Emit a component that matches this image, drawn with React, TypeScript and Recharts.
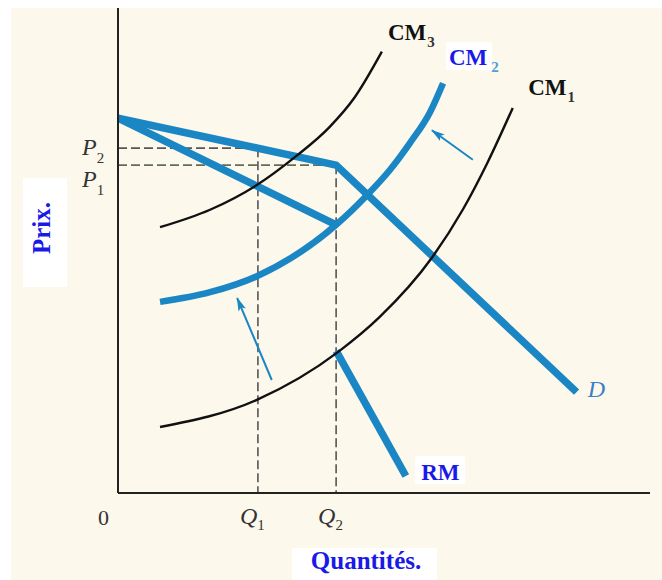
import React from 'react';
import { ComposedChart, Line, XAxis, YAxis, ReferenceLine, ReferenceDot } from 'recharts';

// Equilibrium quantities and prices
const Q1 = 26.3;
const Q2 = 41;
const P1 = 67.6;
const P2 = 71.1;

const xTickValues = [Q1, Q2];
const xTickNames = ['Q1', 'Q2'];
const yTickValues = [P2, P1];
const yTickNames = ['P2', 'P1'];

// Kinked demand curve D
const demandQ = [0, Q2, 86.2];
const demandP = [77.3, P1, 20.8];

// Marginal revenue (RM): upper and lower branches, with the gap at Q2
const mrUpperQ = [0, Q2];
const mrUpperP = [77.3, 55.3];
const mrLowerQ = [Q2, 54.1];
const mrLowerP = [29.3, 3.5];

// Marginal cost curves CM1, CM2, CM3
const cm1Q = [7.9, 26.1, 41.4, 49.2, 59.0, 64.8, 69.4, 74.2];
const cm1P = [13.6, 19.2, 29.1, 36.3, 48.5, 58.4, 68.0, 79.4];
const cm2Q = [7.9, 17.3, 26.1, 41, 46.8, 51.1, 54.9, 58.6, 61.1];
const cm2P = [39.4, 41.4, 44.7, 55.3, 61.4, 66.6, 72.2, 78.4, 84.5];
const cm3Q = [7.9, 17.3, 26.1, 33.3, 39.8, 44.5, 49.6];
const cm3P = [54.8, 58.4, 63.5, 69.3, 75.5, 81.6, 91.0];

// Arrows showing the shift of marginal cost
const arrowUpperQ = [66.7, 59.0];
const arrowUpperP = [68.7, 74.8];
const arrowLowerQ = [28.9, 22.4];
const arrowLowerP = [23.3, 40.2];

const toPoints = (qs: number[], ps: number[]) => qs.map((q, i) => ({ x: q, y: ps[i] }));

const demand = toPoints(demandQ, demandP);
const mrUpper = toPoints(mrUpperQ, mrUpperP);
const mrLower = toPoints(mrLowerQ, mrLowerP);
const cm1 = toPoints(cm1Q, cm1P);
const cm2 = toPoints(cm2Q, cm2P);
const cm3 = toPoints(cm3Q, cm3P);
const arrowUpper = toPoints(arrowUpperQ, arrowUpperP);
const arrowLower = toPoints(arrowLowerQ, arrowLowerP);

const BLUE = '#1b86c4';
const TEXT_BLUE = '#1a1ae8';
const SERIF = '"Liberation Serif", "DejaVu Serif", serif';

const XTick = (props: any) => {
  const { x, y, payload } = props;
  const idx = xTickValues.indexOf(payload.value);
  const name = xTickNames[idx] ?? '';
  return (
    <text x={x - 18} y={y + 31} fontFamily={SERIF} fontStyle="italic" fontSize={24} fill="#333">
      {name.charAt(0)}
      <tspan fontSize={15} dy={6} fontStyle="normal">{name.slice(1)}</tspan>
    </text>
  );
};

const YTick = (props: any) => {
  const { x, y, payload } = props;
  const idx = yTickValues.indexOf(payload.value);
  const name = yTickNames[idx] ?? '';
  const dy = idx === 0 ? 7 : 22;
  return (
    <text x={x - 36} y={y + dy} fontFamily={SERIF} fontStyle="italic" fontSize={24} fill="#333">
      {name.charAt(0)}
      <tspan fontSize={15} dy={8} fontStyle="normal">{name.slice(1)}</tspan>
    </text>
  );
};

const curveLabel =
  (main: string, sub: string, color: string, subColor: string, box: boolean) =>
  (p: any) => (
    <g>
      {box && <rect x={p.cx - 3} y={p.cy - 23} width={46} height={28} fill="#ffffff" />}
      <text x={p.cx} y={p.cy} fontFamily={SERIF} fontWeight="bold" fontSize={23} fill={color}>
        {main}
        <tspan fontSize={15} dy={7} dx={box ? 4 : 1} fill={subColor}>{sub}</tspan>
      </text>
    </g>
  );

const rmLabel = (p: any) => (
  <g>
    <rect x={p.cx - 6} y={p.cy - 24} width={50} height={28} fill="#ffffff" />
    <text x={p.cx} y={p.cy} fontFamily={SERIF} fontWeight="bold" fontSize={23} fill={TEXT_BLUE}>RM</text>
  </g>
);

const dLabel = (p: any) => (
  <text x={p.cx} y={p.cy} fontFamily={SERIF} fontStyle="italic" fontSize={24} fill="#3a7fc8">D</text>
);

export default function App() {
  return (
    <div style={{ position: 'absolute', left: 0, top: 0, width: 662, height: 580, background: '#ffffff' }}>
      <div style={{ position: 'absolute', left: 11, top: 8, width: 651, height: 572, background: '#fcf8ec' }} />
      <div style={{ position: 'absolute', left: 0, top: 0 }}>
        <ComposedChart width={662} height={580} margin={{ top: 8, right: 12, bottom: 0, left: 0 }}>
          <defs>
            <marker id="arrowHead" markerUnits="userSpaceOnUse" markerWidth={14} markerHeight={10} refX={13} refY={5} orient="auto">
              <path d="M0,1 L14,5 L0,9 L3,5 z" fill={BLUE} />
            </marker>
          </defs>
          <XAxis
            type="number"
            dataKey="x"
            domain={[0, 100]}
            ticks={xTickValues}
            interval={0}
            tick={<XTick />}
            tickLine={false}
            tickSize={0}
            tickMargin={0}
            height={87}
            axisLine={{ stroke: '#222', strokeWidth: 2 }}
            allowDataOverflow
          />
          <YAxis
            type="number"
            dataKey="y"
            domain={[0, 100]}
            ticks={yTickValues}
            interval={0}
            tick={<YTick />}
            tickLine={false}
            tickSize={0}
            tickMargin={0}
            width={118}
            axisLine={{ stroke: '#222', strokeWidth: 2 }}
            allowDataOverflow
          />

          <ReferenceLine segment={[{ x: 0, y: P2 }, { x: Q1, y: P2 }]} stroke="#555" strokeWidth={1.6} strokeDasharray="9 4" />
          <ReferenceLine segment={[{ x: Q1, y: P2 }, { x: Q1, y: 0 }]} stroke="#555" strokeWidth={1.6} strokeDasharray="9 4" />
          <ReferenceLine segment={[{ x: 0, y: P1 }, { x: Q2, y: P1 }]} stroke="#5f6e55" strokeWidth={1.6} strokeDasharray="9 4" />
          <ReferenceLine segment={[{ x: Q2, y: P1 }, { x: Q2, y: 0 }]} stroke="#555" strokeWidth={1.6} strokeDasharray="9 4" />

          <Line data={demand} dataKey="y" type="linear" stroke={BLUE} strokeWidth={7.5} strokeLinejoin="miter" dot={false} activeDot={false} isAnimationActive={false} />
          <Line data={mrUpper} dataKey="y" type="linear" stroke={BLUE} strokeWidth={7.5} dot={false} activeDot={false} isAnimationActive={false} />
          <Line data={mrLower} dataKey="y" type="linear" stroke={BLUE} strokeWidth={7.5} dot={false} activeDot={false} isAnimationActive={false} />
          <Line data={cm2} dataKey="y" type="monotone" stroke={BLUE} strokeWidth={6.5} dot={false} activeDot={false} isAnimationActive={false} />
          <Line data={cm3} dataKey="y" type="monotone" stroke="#111" strokeWidth={2.4} dot={false} activeDot={false} isAnimationActive={false} />
          <Line data={cm1} dataKey="y" type="monotone" stroke="#111" strokeWidth={2.4} dot={false} activeDot={false} isAnimationActive={false} />
          <Line data={arrowUpper} dataKey="y" type="linear" stroke={BLUE} strokeWidth={2} markerEnd="url(#arrowHead)" dot={false} activeDot={false} isAnimationActive={false} />
          <Line data={arrowLower} dataKey="y" type="linear" stroke={BLUE} strokeWidth={2} markerEnd="url(#arrowHead)" dot={false} activeDot={false} isAnimationActive={false} />

          <ReferenceDot x={50.75} y={93.4} r={0} shape={curveLabel('CM', '3', '#111', '#333', false)} />
          <ReferenceDot x={62.2} y={88.2} r={0} shape={curveLabel('CM', '2', TEXT_BLUE, '#4fa0d8', true)} />
          <ReferenceDot x={77.1} y={82.1} r={0} shape={curveLabel('CM', '1', '#111', '#333', false)} />
          <ReferenceDot x={88.3} y={19.8} r={0} shape={dLabel} />
          <ReferenceDot x={57.0} y={2.7} r={0} shape={rmLabel} />
        </ComposedChart>
      </div>
      <svg width={662} height={580} style={{ position: 'absolute', left: 0, top: 0, pointerEvents: 'none' }}>
        <text x={98} y={525} fontFamily={SERIF} fontSize={22} fill="#333">0</text>
        <rect x={23} y={178} width={44} height={109} fill="#ffffff" />
        <text
          x={50}
          y={228}
          transform="rotate(-90 50 228)"
          textAnchor="middle"
          fontFamily={SERIF}
          fontWeight="bold"
          fontSize={25}
          fill={TEXT_BLUE}
        >
          Prix.
        </text>
        <rect x={292} y={548} width={145} height={32} fill="#ffffff" />
        <text x={366} y={569} textAnchor="middle" fontFamily={SERIF} fontWeight="bold" fontSize={25} fill={TEXT_BLUE}>
          Quantités.
        </text>
      </svg>
    </div>
  );
}
